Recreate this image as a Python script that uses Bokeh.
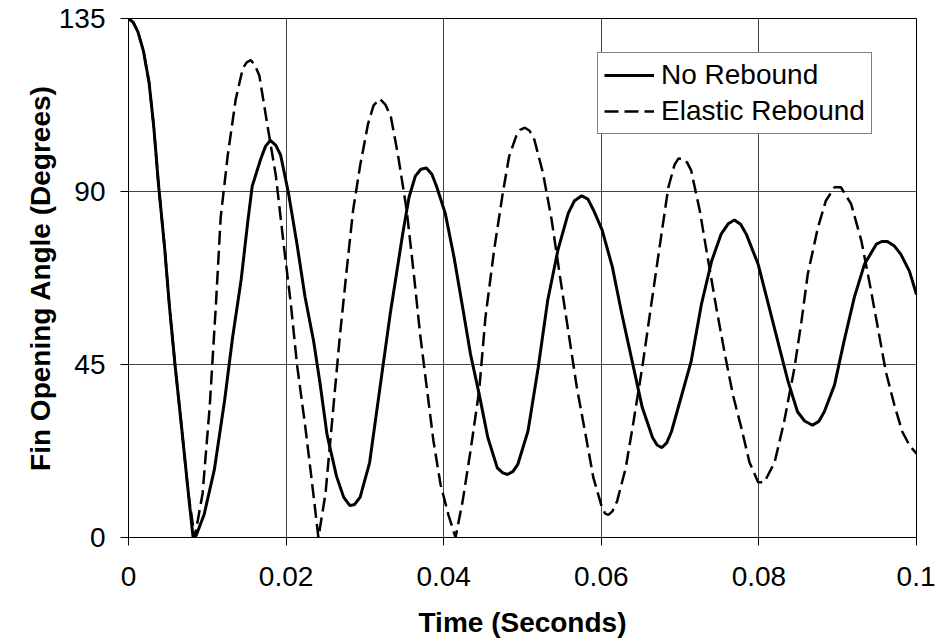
from bokeh.plotting import figure
from bokeh.models import Range1d, FixedTicker, Legend, LegendItem
from bokeh.embed import file_html
from bokeh.resources import INLINE

# ---- data ----
t_no = [0, 0.0006, 0.0012, 0.0019, 0.0026, 0.0032, 0.0038, 0.0046, 0.0052, 0.0059,
        0.0067, 0.0076, 0.0082, 0.0086, 0.0096, 0.0109, 0.0122, 0.0132, 0.0143, 0.0151,
        0.0157, 0.0168, 0.0174, 0.018, 0.0187, 0.0193, 0.0203, 0.0214, 0.0224, 0.0235,
        0.0243, 0.0252, 0.0264, 0.0273, 0.0281, 0.0287, 0.0294, 0.0306, 0.0323, 0.0332,
        0.034, 0.0348, 0.0356, 0.0364, 0.0371, 0.0378, 0.0385, 0.0391, 0.0402, 0.0413,
        0.0424, 0.0434, 0.0445, 0.0456, 0.0468, 0.0475, 0.0481, 0.0488, 0.0494, 0.0507,
        0.052, 0.0532, 0.0545, 0.0558, 0.0566, 0.0575, 0.0583, 0.059, 0.0601, 0.0614,
        0.0626, 0.0639, 0.0652, 0.0665, 0.0671, 0.0677, 0.0683, 0.0689, 0.0702, 0.0714,
        0.0727, 0.074, 0.0752, 0.0761, 0.0769, 0.0777, 0.0784, 0.0799, 0.0811, 0.0824,
        0.0837, 0.0849, 0.0858, 0.0868, 0.0876, 0.0883, 0.0896, 0.0908, 0.0921, 0.0934,
        0.0949, 0.0956, 0.0963, 0.0972, 0.098, 0.0991, 0.1]
y_no = [135, 134, 131.5, 126.5, 118.5, 107, 92, 75, 60, 45,
        29.4, 11.4, 0, 0.6, 6, 17.7, 35.7, 51.9, 67.1, 81.5,
        91.4, 98.6, 101.8, 103.3, 102, 99.5, 89.6, 76.1, 62.6, 51,
        40.2, 26.7, 15.9, 10.5, 8.3, 8.6, 10.5, 19.5, 44.7, 58,
        68.5, 79, 88.5, 94, 95.8, 96.1, 94.5, 91.3, 84.3, 73,
        59.9, 47.7, 37.3, 26, 18.1, 16.8, 16.4, 17.2, 19, 27.7,
        44.3, 61.7, 74.8, 84.3, 87.6, 88.9, 88, 85.2, 80, 70.4,
        58.2, 46, 33.8, 26, 24, 23.4, 24.6, 27.5, 37, 45.8,
        60.6, 71.9, 78.9, 81.6, 82.6, 81.4, 78.9, 71.1, 61.5, 51,
        40.6, 32.7, 30.3, 29.2, 30.2, 32.7, 39.7, 51, 62.4, 71.1,
        76.3, 77, 77, 75.8, 73.7, 69.3, 63.2]

t_el = [0, 0.0006, 0.0012, 0.0019, 0.0026, 0.0032, 0.0038, 0.0046, 0.0052, 0.0059,
        0.0067, 0.0076, 0.0084, 0.0094, 0.0103, 0.0111, 0.0117, 0.0126, 0.0136, 0.0145,
        0.015, 0.0155, 0.016, 0.0166, 0.0176, 0.0187, 0.0197, 0.0206, 0.0214, 0.0224,
        0.0233, 0.0241, 0.025, 0.026, 0.0268, 0.0277, 0.0285, 0.0294, 0.0304, 0.0311,
        0.0319, 0.0326, 0.0333, 0.0342, 0.0353, 0.0362, 0.037, 0.0379, 0.0387, 0.0396,
        0.0406, 0.0415, 0.0424, 0.0434, 0.0445, 0.0453, 0.0464, 0.0475, 0.0483, 0.0492,
        0.0497, 0.0503, 0.0509, 0.0515, 0.0526, 0.0537, 0.0547, 0.0558, 0.0569, 0.058,
        0.059, 0.0601, 0.0605, 0.0609, 0.0614, 0.062, 0.0631, 0.0641, 0.0652, 0.0663,
        0.0674, 0.0685, 0.0693, 0.0698, 0.0704, 0.0709, 0.0714, 0.0725, 0.0735, 0.0746,
        0.0757, 0.0767, 0.0778, 0.0788, 0.0799, 0.0807, 0.082, 0.0832, 0.0845, 0.0854,
        0.0862, 0.0875, 0.0885, 0.0896, 0.0904, 0.0917, 0.093, 0.094, 0.0951, 0.0961,
        0.0972, 0.0982, 0.0991, 0.1]
y_el = [135, 134, 131.5, 126.5, 118.5, 107, 92, 75, 60, 45,
        29.4, 11.4, 0, 11.4, 33.9, 60.8, 83.3, 99.5, 113.9, 122,
        123.6, 124.2, 123, 120.2, 107.6, 94.1, 76.1, 60.8, 44.7, 29.4,
        14.1, 0, 11.4, 33.9, 51.9, 69.8, 85.1, 96.8, 107.6, 112.4,
        114.1, 112.6, 109.4, 99.5, 85.2, 68.7, 53, 38.2, 25.1, 13.8,
        5.9, 0, 9.4, 22.5, 38.2, 57.3, 74.8, 89.6, 99.1, 104.4,
        106, 106.6, 105.8, 103.5, 94.8, 82.6, 68.7, 53.8, 39, 26.8,
        15.5, 7.7, 6.2, 5.9, 6.8, 9.4, 18.1, 30.3, 44.3, 60,
        75.6, 91, 97, 98.6, 98.5, 97.5, 95.5, 85, 72.8, 59.7,
        47.5, 37.1, 28.3, 19.6, 14.4, 14.4, 19.6, 30.1, 44, 56.2,
        68.5, 80.7, 87.6, 91.1, 91.1, 86.8, 77.2, 66.7, 54.5, 43.2,
        34.4, 27.5, 24, 21.8]

x_ticks = [0, 0.02, 0.04, 0.06, 0.08, 0.1]
x_tick_labels = ["0", "0.02", "0.04", "0.06", "0.08", "0.1"]
y_ticks = [0, 45, 90, 135]
series_names = ["No Rebound", "Elastic Rebound"]
x_title = "Time (Seconds)"
y_title = "Fin Opening Angle (Degrees)"

FONT = "Liberation Sans"

p = figure(width=935, height=641, output_backend="svg", toolbar_location=None,
           x_range=Range1d(0, 0.1), y_range=Range1d(0, 135),
           min_border_left=128, min_border_right=19, min_border_top=18,
           min_border_bottom=104)
p.background_fill_color = "white"
p.border_fill_color = "white"
p.outline_line_color = "black"
p.outline_line_width = 1

for ax in (p.xaxis[0], p.yaxis[0]):
    ax.axis_line_color = "black"
    ax.major_tick_line_color = "black"
    ax.minor_tick_line_color = None
    ax.major_tick_out = 8
    ax.major_tick_in = 0
    ax.major_label_text_font = FONT
    ax.major_label_text_font_size = "28px"
    ax.major_label_text_color = "black"
    ax.axis_label_text_font = FONT
    ax.axis_label_text_font_size = "28px"
    ax.axis_label_text_font_style = "bold"
    ax.axis_label_text_color = "black"

p.xaxis.ticker = FixedTicker(ticks=x_ticks)
p.xaxis.major_label_overrides = {v: s for v, s in zip(x_ticks, x_tick_labels)}
p.yaxis.ticker = FixedTicker(ticks=y_ticks)
p.xaxis.axis_label = x_title
p.yaxis.axis_label = y_title
p.xaxis.major_label_standoff = 21
p.xaxis.axis_label_standoff = 18
p.yaxis.major_label_standoff = 15
p.yaxis.axis_label_standoff = 0

p.xgrid.grid_line_color = "#444444"
p.ygrid.grid_line_color = "#444444"
p.xgrid.grid_line_width = 1
p.ygrid.grid_line_width = 1

r1 = p.line(t_no, y_no, line_color="black", line_width=3)
r2 = p.line(t_el, y_el, line_color="black", line_width=2.5, line_dash="14 6")

legend = Legend(items=[LegendItem(label=series_names[0], renderers=[r1]),
                       LegendItem(label=series_names[1], renderers=[r2])],
                location=(469, 403))
legend.label_text_font = FONT
legend.label_text_font_size = "28px"
legend.label_text_color = "black"
legend.glyph_width = 50
legend.glyph_height = 30
legend.label_height = 30
legend.label_standoff = 7
legend.padding = 6
legend.spacing = 4
legend.margin = 0
legend.border_line_color = "black"
legend.border_line_width = 1
legend.background_fill_color = "white"
legend.background_fill_alpha = 1
p.add_layout(legend)

open("out.html", "w").write(file_html(p, INLINE))
